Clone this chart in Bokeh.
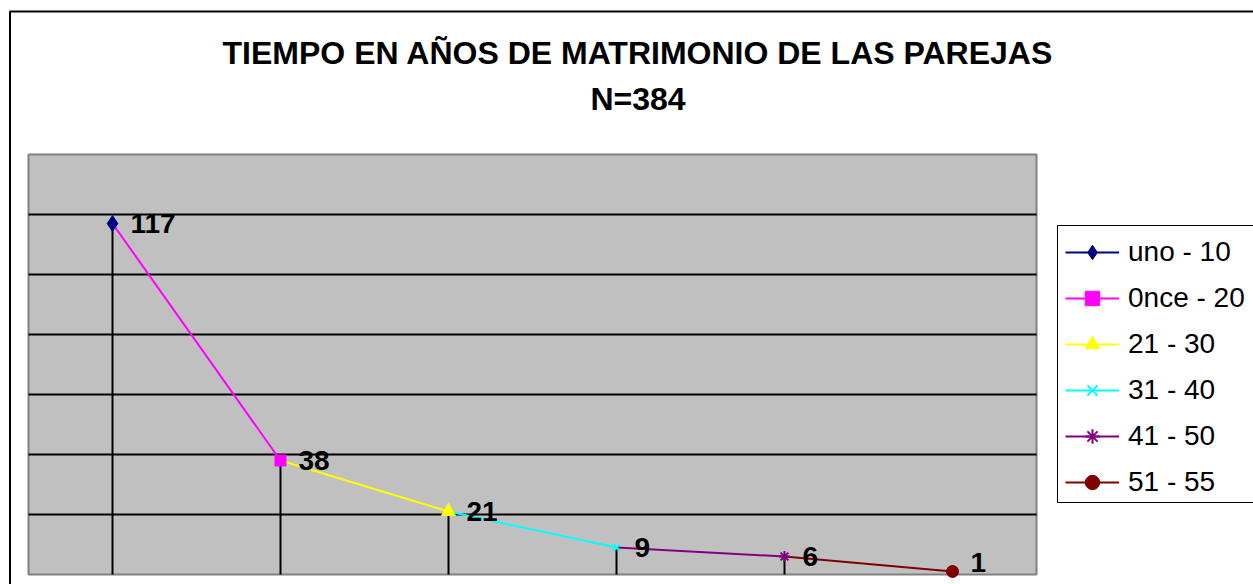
import numpy as np
from bokeh.plotting import figure
from bokeh.models import Range1d, Legend, LegendItem, Label, BoxAnnotation
from bokeh.core.properties import value
from bokeh.embed import file_html
from bokeh.resources import INLINE

# ---- data ----
categories = ["uno - 10", "0nce - 20", "21 - 30", "31 - 40", "41 - 50", "51 - 55"]
counts = [117, 38, 21, 9, 6, 1]
colors = ["#000080", "#FF00FF", "#FFFF00", "#00FFFF", "#800080", "#800000"]
markers = ["diamond", "square", "triangle", "x", "asterisk", "circle"]
marker_sizes = [16, 11, 14, 9, 11, 12]
title_lines = ["TIEMPO EN AÑOS DE MATRIMONIO DE LAS PAREJAS", "N=384"]
grid_ticks = [20, 40, 60, 80, 100, 120]
Y_MAX = 140

# ---- geometry (canvas pixels) ----
W, H = 1253, 584
PA_L, PA_R, PA_T, PA_B = 28, 1036, 154, 574   # plot area box
LG_L, LG_T, LG_B = 1057, 225, 502             # legend box
n = len(categories)
FONT = "Liberation Sans"
SX = (PA_R - PA_L) / n          # px per category
SY = (PA_B - PA_T) / Y_MAX      # px per unit


def px_x(cx):
    return (cx - PA_L) / SX


def px_y(cy):
    return (PA_B - cy) / SY


xs = np.arange(n) + 0.5
ys = np.array(counts, dtype=float)

p = figure(width=W, height=H,
           x_range=Range1d(px_x(0), px_x(W)), y_range=Range1d(px_y(H), px_y(0)),
           output_backend="svg", toolbar_location=None,
           min_border=0, min_border_left=0, min_border_right=0,
           min_border_top=0, min_border_bottom=0)
p.axis.visible = False
p.grid.visible = False
p.background_fill_color = "white"
p.border_fill_color = "white"
p.outline_line_color = None

# outer chart border
p.add_layout(BoxAnnotation(left=px_x(9.5), right=px_x(W + 200), top=px_y(11), bottom=px_y(H + 200),
                           fill_alpha=0, line_color="black", line_alpha=1, line_width=2,
                           level="underlay"))

# plot area
p.quad(left=[0], right=[n], bottom=[0], top=[Y_MAX], fill_color="#C0C0C0",
       line_color="#808080", line_width=2)

# horizontal gridlines
p.segment(x0=np.zeros(len(grid_ticks)), x1=np.full(len(grid_ticks), n),
          y0=grid_ticks, y1=grid_ticks, line_color="black", line_width=2)

# drop lines
p.segment(x0=xs, y0=np.zeros(n), x1=xs, y1=ys, line_color="black", line_width=2)

line_rs = []
for i in range(n):
    idx = [i - 1, i] if i > 0 else [0]
    line_rs.append(p.line(xs[idx], ys[idx], line_color=colors[i], line_width=2))

items = []
for i in range(n):
    sr = p.scatter([xs[i]], [ys[i]], marker=markers[i], size=marker_sizes[i],
                   fill_color=colors[i], line_color=colors[i],
                   line_width=2 if markers[i] in ("x", "asterisk") else 1)
    items.append(LegendItem(label=categories[i], renderers=[line_rs[i], sr]))

# data labels
label_y = np.maximum(ys, 12 / SY)
p.text(x=xs, y=label_y, text=[str(c) for c in counts], x_offset=18,
       text_align="left", text_baseline="middle", text_color="black",
       text_font=value(FONT), text_font_style="bold", text_font_size=value("28px"))

# title
for t, cy in zip(title_lines, [52, 98]):
    p.add_layout(Label(x=px_x(637.5), y=px_y(cy), text=t, text_align="center",
                       text_baseline="middle", text_font=FONT, text_font_style="bold",
                       text_font_size="32px", text_color="black"))

# legend frame (right edge lies beyond the canvas)
p.add_layout(BoxAnnotation(left=px_x(LG_L), right=px_x(W + 200), top=px_y(LG_T), bottom=px_y(LG_B),
                           fill_color="white", fill_alpha=1, line_color="black", line_alpha=1,
                           line_width=1))

legend = Legend(items=items, location=(LG_L + 8, H - LG_B + 2),
                padding=8, spacing=10, glyph_height=36, glyph_width=54,
                label_standoff=9, label_height=36, margin=0,
                border_line_color=None, background_fill_alpha=0,
                label_text_font=FONT, label_text_font_size="28px", label_text_color="black")
p.add_layout(legend)

open("out.html", "w").write(file_html(p, INLINE))
